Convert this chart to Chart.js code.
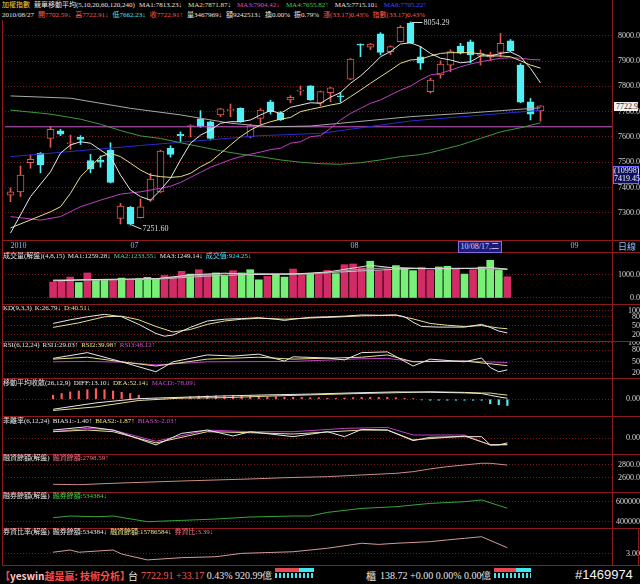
<!DOCTYPE html>
<html>
<head>
<meta charset="utf-8">
<title>加權指數 技術分析</title>
<script src="https://cdn.jsdelivr.net/npm/chart.js@4.4.1/dist/chart.umd.min.js"></script>
<style>
  html, body { margin: 0; padding: 0; background: #000; }
  #wrap { position: relative; width: 640px; height: 584px; overflow: hidden; background: #000;
          font-family: "Liberation Serif", "Noto Sans CJK TC", serif; }
  #wrap canvas { position: absolute; left: 0; z-index: 1; }
  .txt { position: absolute; white-space: nowrap; font-size: 7px; line-height: 9px; color: #e6e6e6; z-index: 3; }
  .txt span { margin-right: 3px; }
  .hdr span { margin-right: 4px; }
  .hl { position: absolute; left: 2px; width: 638px; height: 1px; background: #8e1b1b; z-index: 2; }
  .vl { position: absolute; width: 1px; background: #8e1b1b; z-index: 2; }
  .w { color: #e6e6e6; } .y { color: #ece48a; } .m { color: #d24fd2; } .g { color: #48d048; }
  .b { color: #4a4aff; } .r { color: #ff5a50; } .c { color: #45e4ff; } .t { color: #55d6a8; }
  .pink { color: #ff6f8a; }
  #status { position: absolute; left: 0; top: 566px; width: 640px; height: 18px; z-index: 3; }
  #status div { position: absolute; white-space: nowrap; }
  .mini { position: absolute; height: 10px; }
</style>
</head>
<body>
<div id="wrap">
  <!-- header -->
  <div class="txt hdr" style="left:2px;top:1px">
    <span style="color:#f2d24a">加權指數</span><span>競單移動平均(5,10,20,60,120,240)</span><span style="margin-right:6px">MA1:7813.23↓</span><span class="y" style="margin-right:6px">MA2:7871.87↓</span><span class="m" style="margin-right:6px">MA3:7904.42↓</span><span class="g" style="margin-right:6px">MA4:7655.82↑</span><span style="margin-right:6px">MA5:7715.10↓</span><span class="b">MA6:7705.22↑</span>
  </div>
  <div class="txt hdr" style="left:2px;top:11px">
    <span>2010/08/27</span><span class="r">開7702.59↓</span><span class="r">高7722.91↓</span><span class="c">低7662.23↓</span><span class="r">收7722.91↑</span><span>量3467969↓</span><span>額9242513↓</span><span>換0.00%</span><span>振0.79%</span><span class="r">漲(33.17)0.43%</span><span class="r">指數(33.17)0.43%</span>
  </div>

  <!-- panel labels -->
  <div class="txt" style="left:3px;top:252px"><span>成交量(解盤)(4,8,15)</span><span>MA1:1259.28↓</span><span class="t">MA2:1233.55↓</span><span>MA3:1249.14↓</span><span class="c">成交值:924.25↓</span></div>
  <div class="txt" style="left:3px;top:304px"><span>KD(9,3,3)</span><span>K:26.79↓</span><span class="y">D:40.51↓</span></div>
  <div class="txt" style="left:3px;top:341px"><span>RSI(6,12,24)</span><span>RSI1:29.03↑</span><span class="y">RSI2:39.98↑</span><span class="m">RSI3:48.12↑</span></div>
  <div class="txt" style="left:3px;top:379px"><span>移動平均收斂(26,12,9)</span><span>DIFF:13.10↓</span><span class="y">DEA:52.14↓</span><span class="m">MACD:-78.09↓</span></div>
  <div class="txt" style="left:3px;top:417px"><span>乖離率(6,12,24)</span><span>BIAS1:-1.40↑</span><span class="y">BIAS2:-1.87↑</span><span class="m">BIAS3:-2.03↑</span></div>
  <div class="txt" style="left:3px;top:454px"><span>融資餘額(解盤)</span><span class="pink">融資餘額:2798.59↑</span></div>
  <div class="txt" style="left:3px;top:492px"><span>融券餘額(解盤)</span><span class="g">融券餘額:534384↓</span></div>
  <div class="txt" style="left:3px;top:528px"><span>券資比率(解盤)</span><span>融券餘額:534384↓</span><span class="y">融資餘額:15786584↓</span><span class="pink">券資比:3.39↓</span></div>

  <!-- frame -->
  <div class="hl" style="top:240px"></div>
  <div class="hl" style="top:252px"></div>
  <div class="hl" style="top:304px"></div>
  <div class="hl" style="top:341px"></div>
  <div class="hl" style="top:378px"></div>
  <div class="hl" style="top:416px"></div>
  <div class="hl" style="top:454px"></div>
  <div class="hl" style="top:492px"></div>
  <div class="hl" style="top:528px"></div>
  <div class="hl" style="top:565px"></div>
  <div class="vl" style="left:2px;top:20px;height:546px"></div>
  <div class="vl" style="left:612px;top:0;height:566px"></div>
  <div class="vl" style="left:638px;top:528px;height:38px"></div>

  <div class="txt" style="left:618px;top:242px;font-size:9px;line-height:10px;color:#8fb8ff">日線</div>

  <!-- status bar -->
  <div id="status">
    <div style="left:0;top:2px;font:bold 10px 'Noto Sans CJK TC';color:#ff4a4a">【<span style="color:#ffc8c8">yeswin</span>越是贏: 技術分析】</div>
    <div style="left:128px;top:2px;font:10px 'Noto Sans CJK TC';color:#e6e6e6">台</div>
    <div style="left:141px;top:3px;font:10px 'Liberation Serif';color:#ff5a50">7722.91 +33.17 <span style="color:#e6e6e6">0.43% 920.99億</span></div>
    <div class="mini" style="left:275px;top:2px;width:24px;height:4px;background:#e8484f"></div>
    <div class="mini" style="left:299px;top:2px;width:15px;height:4px;background:#3ee8f0"></div>
    <div class="mini" style="left:275px;top:7px;width:39px;height:5px;background:repeating-linear-gradient(90deg,#3ee8f0 0 2px,#000 2px 4px)"></div>
    <div style="left:366px;top:2px;font:10px 'Noto Sans CJK TC';color:#e6e6e6">櫃</div>
    <div style="left:380px;top:3px;font:10px 'Liberation Serif';color:#e6e6e6">138.72 +0.00 0.00% 0.00億</div>
    <div class="mini" style="left:494px;top:2px;width:22px;height:4px;background:#e8484f"></div>
    <div class="mini" style="left:516px;top:2px;width:15px;height:4px;background:#3ee8f0"></div>
    <div class="mini" style="left:494px;top:7px;width:37px;height:5px;background:repeating-linear-gradient(90deg,#3ee8f0 0 2px,#000 2px 4px)"></div>
    <div style="left:575px;top:1px;font:13px 'Liberation Sans';color:#f2f2f2">#1469974</div>
  </div>
</div>

<script>
// ---- values ----
const monthIdx  = [0, 12, 34, 56];
const monthText = ['2010', '07', '08', '09'];
const cursorIdx = 45;
const cursorDate = '10/08/17,二';
const cursorCount = '(10998)';
const cursorValue = 7419.45;
const refLevel = 7640;

const open  = [7370,7383,7498,7535,7594,7624,7573,7598,7506,7508,7548,7278,7322,7281,7350,7383,7555,7610,7640,7671,7660,7687,7705,7713,7600,7673,7739,7693,7746,7781,7802,7733,7775,7762,7828,7965,7955,8007,7937,7976,8049,7917,7779,7845,7884,7959,7976,7922,7915,7934,7980,7884,7739,7702.59];
const high  = [7398,7485,7528,7538,7640,7630,7607,7605,7531,7525,7577,7337,7325,7355,7456,7548,7565,7620,7648,7704,7662,7713,7730,7715,7650,7712,7745,7700,7763,7801,7803,7781,7797,7776,7910,7968,7970,8012,7960,8040,8054.29,7957,7832,7901,7945,7970,7983,7944,7935,8009,7985,7890,7752,7722.91];
const low   = [7344,7364,7476,7458,7559,7605,7551,7570,7458,7480,7418,7256,7251.6,7280,7345,7380,7520,7580,7600,7638,7588,7680,7680,7658,7596,7650,7690,7665,7735,7765,7744,7722,7739,7737,7826,7917,7945,7924,7925,7975,7970,7867,7773,7832,7857,7928,7893,7884,7901,7917,7937,7735,7667,7662.23];
const close = [7383,7449,7511,7489,7630,7611,7577,7590,7473,7500,7420,7327,7255,7324,7433,7544,7531,7605,7645,7641,7594,7711,7708,7660,7645,7706,7700,7667,7756,7784,7746,7779,7794,7758,7908,7963,7967,7934,7957,8033,7972,7891,7825,7888,7937,7931,7924,7930,7925,7970,7941,7737,7690,7722.91];

const ma1 = [[0,7220],[2,7364],[4,7462],[5,7536],[6,7568],[7,7581],[8,7575],[9,7548],[10,7522],[11,7449],[12,7390],[13,7364],[14,7350],[15,7390],[16,7437],[17,7509],[18,7575],[19,7607],[20,7627],[21,7654],[22,7660],[23,7660],[24,7667],[25,7687],[26,7704],[27,7693],[28,7717],[29,7726],[30,7735],[31,7733],[32,7757],[33,7775],[34,7812],[35,7841],[36,7877],[37,7917],[38,7937],[39,7967],[40,7972],[41,7957],[42,7930],[43,7911],[44,7904],[45,7893],[46,7897],[47,7920],[48,7920],[49,7930],[50,7936],[51,7917],[52,7871],[53,7813.23]];
const ma2 = [[0,7240],[4,7304],[5,7324],[6,7377],[7,7443],[8,7482],[9,7522],[10,7535],[11,7522],[12,7496],[13,7469],[14,7449],[15,7443],[16,7440],[17,7443],[18,7456],[19,7482],[20,7502],[21,7535],[22,7568],[23,7601],[24,7627],[25,7647],[26,7660],[27,7670],[28,7677],[29,7700],[30,7709],[31,7717],[32,7726],[33,7733],[34,7759],[35,7785],[36,7812],[37,7838],[38,7864],[39,7891],[40,7904],[41,7907],[42,7920],[43,7930],[44,7933],[46,7933],[47,7928],[48,7920],[49,7920],[50,7917],[51,7901],[52,7884],[53,7871.87]];
const ma3 = [[0,7285],[3,7271],[5,7285],[7,7324],[9,7350],[11,7374],[13,7383],[15,7397],[16,7405],[17,7420],[18,7440],[19,7460],[20,7480],[21,7495],[22,7510],[23,7522],[24,7532],[25,7540],[26,7550],[27,7555],[28,7575],[29,7581],[30,7601],[31,7605],[32,7634],[33,7667],[34,7693],[35,7713],[36,7733],[37,7746],[38,7766],[39,7785],[40,7801],[41,7825],[42,7845],[43,7851],[44,7864],[45,7877],[46,7888],[47,7897],[48,7904],[49,7911],[50,7913],[51,7911],[52,7906],[53,7904.42]];
const ma4 = [[0,7706],[4,7690],[7,7670],[9,7650],[11,7625],[13,7604],[15,7594],[17,7577],[19,7561],[21,7545],[23,7532],[25,7522],[27,7509],[29,7500],[31,7494],[33,7492],[35,7498],[37,7509],[39,7522],[41,7530],[42,7538],[45,7568],[47,7594],[49,7620],[51,7636],[53,7655.82]];
const ma5 = [[0,7762],[6,7753],[12,7713],[17,7687],[22,7654],[26,7640],[30,7643],[33,7654],[40,7680],[46,7695],[53,7715.10]];
const ma6 = [[0,7522],[13,7566],[25,7605],[31,7614],[40,7663],[53,7705.22]];

const volume = [690,750,910,675,1090,790,790,790,865,790,835,895,820,980,910,1160,1040,1230,1040,1090,940,1190,1090,1230,790,940,1010,910,1260,1060,1040,1060,1200,1060,1450,1480,1310,1600,1190,1260,1410,1280,1190,1340,1200,1350,1380,1280,1040,1230,1350,1640,1200,924.25];
const volUp  = [1,1,1,0,1,0,0,1,0,1,0,0,0,1,1,1,0,1,1,0,0,1,0,0,0,1,0,0,1,1,0,1,1,0,1,1,1,0,1,1,0,0,0,1,1,0,0,1,0,1,0,0,0,1];
const volMa1 = [[0,740],[4,800],[8,820],[12,840],[16,1000],[20,1080],[24,1020],[28,1040],[32,1130],[35,1300],[37,1420],[40,1300],[44,1270],[48,1280],[51,1320],[53,1259.28]];
const volMa2 = [[0,760],[4,780],[8,800],[12,830],[16,950],[20,1050],[24,1070],[28,1020],[32,1100],[36,1250],[40,1330],[44,1280],[48,1290],[51,1280],[53,1233.55]];
const volMa3 = [[0,780],[6,790],[12,820],[18,950],[24,1040],[30,1060],[36,1180],[42,1280],[48,1290],[53,1249.14]];

const kLine = [[0,58],[2,70],[4,80],[6,88],[8,80],[10,55],[12,25],[13,16],[14,20],[16,45],[18,66],[20,72],[22,74],[24,77],[26,72],[27,68],[28,72],[30,78],[32,80],[34,82],[36,86],[38,85],[40,86],[41,80],[42,62],[43,48],[45,46],[48,46],[50,55],[51,45],[52,33],[53,26.79]];
const dLine = [[0,45],[3,60],[6,80],[8,82],[10,70],[12,48],[14,30],[16,38],[18,55],[20,66],[22,72],[24,75],[27,72],[30,76],[33,79],[36,83],[40,85],[42,73],[44,58],[46,52],[48,48],[50,51],[52,43],[53,40.51]];

const rsi1 = [[0,59],[4,74],[8,50],[12,24],[14,50],[18,68],[21,65],[24,70],[27,52],[28,63],[32,60],[34,55],[36,74],[39,76],[42,39],[44,57],[48,50],[50,60],[51,35],[52,24],[53,29.03]];
const rsi2 = [[0,57],[4,62],[8,50],[12,39],[18,57],[24,62],[28,57],[36,62],[39,68],[42,50],[48,52],[53,39.98]];
const rsi3 = [[0,50],[4,51],[8,49],[12,42],[18,50],[28,51],[36,58],[39,59],[42,51],[48,52],[53,48.12]];

const macdHist = [52,72,92,104,120,132,120,104,88,72,52,12,4,4,8,20,32,40,44,44,44,48,48,44,40,32,32,24,24,24,20,20,12,12,16,20,24,24,24,24,20,12,8,-8,-12,-12,-12,-12,-12,-12,-12,-56,-68,-78.09];
const diffLine = [[0,-125],[5,-45],[10,8],[15,25],[20,42],[25,55],[30,65],[35,80],[40,92],[44,88],[48,80],[50,72],[51,50],[52,30],[53,13.10]];
const deaLine  = [[0,-140],[5,-95],[10,-15],[15,15],[20,20],[25,39],[30,55],[35,70],[40,82],[44,94],[48,86],[50,78],[51,78],[52,64],[53,52.14]];

const bias1 = [[0,2.5],[4,3.5],[7,2.5],[12,-2.0],[15,1.5],[18,2.5],[21,0.7],[23,2.0],[28,0.5],[32,2.0],[34,0.5],[36,2.7],[39,2.5],[42,-0.7],[44,0.3],[48,0.5],[50,0.5],[51,-2.0],[52,-2.0],[53,-1.40]];
const bias2 = [[0,2.0],[4,2.5],[7,2.0],[12,-1.4],[18,2.0],[23,1.7],[28,1.3],[36,2.5],[39,2.5],[42,-0.5],[48,0.7],[51,-2.0],[53,-1.87]];
const bias3 = [[0,2.0],[4,3.0],[7,2.5],[12,-0.9],[18,2.5],[23,2.0],[28,2.0],[34,3.0],[39,3.3],[42,1.0],[48,1.0],[51,-2.0],[53,-2.03]];

const finBal   = [[0,2496],[3,2490],[7,2512],[15,2548],[23,2580],[27,2600],[32,2616],[36,2643],[40,2669],[42,2695],[44,2738],[46,2774],[50,2827],[51,2827],[53,2798.59]];
const shortBal = [[0,440000],[2,457000],[5,450000],[7,457000],[11,400000],[15,413000],[19,427000],[23,447000],[28,457000],[30,457000],[32,493000],[36,533000],[40,550000],[44,583000],[48,600000],[50,617000],[53,534384]];
const ratio    = [[0,3.11],[2,3.25],[3,3.11],[7,3.25],[8,3.0],[11,2.63],[15,2.77],[19,2.83],[22,3.04],[28,3.14],[32,3.36],[36,3.67],[38,3.6],[40,3.67],[44,3.77],[46,3.88],[48,3.98],[50,4.08],[53,3.39]];

// ---- drawing ----
const X_MIN = -0.55, X_MAX = 60.15;
const UP = '#e0584f', DOWN = '#4ef0f5';
const wrap = document.getElementById('wrap');
const pts = a => a.map(p => ({ x: p[0], y: p[1] }));
const line = (a, color) => ({ type: 'line', data: pts(a), borderColor: color, borderWidth: 1, pointRadius: 0, tension: 0, order: 0 });
const isUp = i => close[i] >= open[i];
const tickFont = { family: 'Liberation Serif', size: 8 };

function panel(top, height, datasets, y, xAxis, plugins) {
  const cv = document.createElement('canvas');
  cv.width = 640; cv.height = height; cv.style.top = top + 'px';
  wrap.appendChild(cv);
  return new Chart(cv.getContext('2d'), {
    type: 'bar',
    data: { datasets },
    plugins: plugins || [],
    options: {
      responsive: false, animation: false, events: [],
      layout: { padding: { left: 5, right: 0, top: 0, bottom: 0 }, autoPadding: false },
      plugins: { legend: { display: false }, tooltip: { enabled: false } },
      scales: {
        x: xAxis || { type: 'linear', min: X_MIN, max: X_MAX, display: false },
        y: {
          position: 'right', min: y.min, max: y.max,
          afterFit: s => { s.width = 28; s.paddingTop = 0; s.paddingBottom = 0; },
          afterBuildTicks: ax => { ax.ticks = y.ticks.map(v => ({ value: v })); },
          ticks: { autoSkip: false, color: '#d8d8d8', font: tickFont, padding: y.pad, crossAlign: 'far', callback: y.fmt },
          grid: { color: '#7a1818', drawTicks: false },
          border: { display: false, dash: [1, 2] }
        }
      }
    }
  });
}

const hiI = high.indexOf(Math.max(...high));
const loI = low.indexOf(Math.min(...low));

const leaders = {
  id: 'leaders',
  afterDatasetsDraw(chart) {
    const { ctx, scales: { x, y } } = chart;
    ctx.save();
    ctx.strokeStyle = '#d8d8d8'; ctx.lineWidth = 1;
    ctx.beginPath();
    const hx = x.getPixelForValue(hiI), hy = Math.round(y.getPixelForValue(high[hiI])) + 0.5;
    ctx.moveTo(hx + 1, hy); ctx.lineTo(hx + 12, hy);
    const lx = x.getPixelForValue(loI), ly = y.getPixelForValue(low[loI]);
    ctx.moveTo(lx + 1, ly); ctx.lineTo(lx + 11, ly + 4);
    ctx.stroke();
    ctx.restore();
  }
};

const main = panel(20, 232, [
  line(ma1, '#e8e8e8'), line(ma2, '#e6df8e'), line(ma3, '#c23fc6'),
  line(ma4, '#3f9a3a'), line(ma5, '#a9a9a9'), line(ma6, '#2b2bc8'),
  { type: 'line', data: [{ x: X_MIN, y: refLevel }, { x: X_MAX, y: refLevel }], borderColor: '#c95ac9', borderWidth: 1, pointRadius: 0, order: 0 },
  { type: 'bar', data: open.map((o, i) => ({ x: i, y: [o, close[i]] })),
    backgroundColor: c => isUp(c.dataIndex) ? '#000' : DOWN,
    borderColor: c => isUp(c.dataIndex) ? UP : DOWN,
    borderWidth: 1, borderSkipped: false, barThickness: 7, minBarLength: 1, grouped: false, order: 1 },
  { type: 'bar', data: low.map((l, i) => ({ x: i, y: [l, high[i]] })),
    backgroundColor: c => isUp(c.dataIndex) ? UP : DOWN,
    barThickness: 1, grouped: false, order: 2 }
], { min: 7192.5, max: 8062.1, ticks: [7300, 7400, 7500, 7600, 7700, 7800, 7900, 8000], fmt: v => v.toFixed(1), pad: 4 },
{
  type: 'linear', min: X_MIN, max: X_MAX, offset: false,
  afterBuildTicks: ax => { ax.ticks = monthIdx.map(v => ({ value: v })); },
  afterFit: s => { s.height = 12; s.paddingLeft = 0; s.paddingRight = 0; },
  ticks: { autoSkip: false, maxRotation: 0, align: 'start', padding: 1, color: '#8fb8ff', font: tickFont, callback: (v, i) => monthText[i] },
  grid: { display: false, drawTicks: false }, border: { display: false }
}, [leaders]);

panel(252, 52, [
  line(volMa1, '#dedede'), line(volMa2, '#9c9c9c'), line(volMa3, '#c4c4c4'),
  { type: 'bar', data: volume.map((v, i) => ({ x: i, y: v })),
    backgroundColor: c => volUp[c.dataIndex] ? '#d22b66' : '#78f078', barThickness: 7, grouped: false, order: 1 }
], { min: -261, max: 2000, ticks: [0, 1000], fmt: v => v.toFixed(1), pad: 4 });

panel(304, 37, [line(kLine, '#e8e8e8'), line(dLine, '#e6df8e')],
  { min: 0.25, max: 122, ticks: [20, 50, 80, 100], fmt: v => String(v), pad: 14 });

panel(341, 37, [line(rsi1, '#e8e8e8'), line(rsi2, '#e6df8e'), line(rsi3, '#c23fc6')],
  { min: 7.7, max: 104.4, ticks: [20, 50, 80, 100], fmt: v => String(v), pad: 14 });

panel(378, 38, [
  line(diffLine, '#e8e8e8'), line(deaLine, '#e6df8e'),
  { type: 'bar', data: macdHist.map((v, i) => ({ x: i, y: v })),
    backgroundColor: c => macdHist[c.dataIndex] >= 0 ? '#ff5a5a' : DOWN, barThickness: 1.5, grouped: false, order: 1 }
], { min: -209, max: 266, ticks: [0], fmt: v => v.toFixed(2), pad: 12 });

panel(416, 38, [line(bias1, '#e8e8e8'), line(bias2, '#e6df8e'), line(bias3, '#c23fc6')],
  { min: -4.76, max: 6.76, ticks: [0], fmt: v => v.toFixed(2), pad: 12 });

panel(454, 38, [line(finBal, '#cf8a8a')],
  { min: 2375, max: 2973, ticks: [2600, 2800], fmt: v => v.toFixed(1), pad: 4 });

panel(492, 36, [line(shortBal, '#3aa43a')],
  { min: 337000, max: 697000, ticks: [400000, 600000], fmt: v => String(v), pad: 3 });

panel(528, 37, [line(ratio, '#d49a9a')],
  { min: 2.3125, max: 4.625, ticks: [3], fmt: v => v.toFixed(2), pad: 12 });

// ---- labels tied to the main chart scales ----
function tag(html, css) {
  const d = document.createElement('div');
  d.className = 'txt';
  d.innerHTML = html;
  Object.assign(d.style, css);
  wrap.appendChild(d);
  return d;
}
const xs = main.scales.x, ys = main.scales.y;
tag(high[hiI].toFixed(2), { left: (xs.getPixelForValue(hiI) + 13) + 'px', top: (20 + ys.getPixelForValue(high[hiI]) - 4) + 'px', fontSize: '8px', color: '#dcdcdc' });
tag(low[loI].toFixed(2), { left: (xs.getPixelForValue(loI) + 12) + 'px', top: (20 + ys.getPixelForValue(low[loI]) - 1) + 'px', fontSize: '8px', color: '#dcdcdc' });

const last = close.length - 1;
tag(close[last].toFixed(1), {
  left: '614px', top: (20 + ys.getPixelForValue(close[last]) - 4) + 'px', width: '24px', height: '9px',
  fontSize: '8px', lineHeight: '9px', background: '#f0f0f0', color: '#222', textAlign: 'right', zIndex: 4
});
tag(cursorCount + '<br>' + cursorValue.toFixed(2), {
  left: '613px', top: (20 + ys.getPixelForValue(cursorValue) - 17) + 'px', width: '24px',
  fontSize: '8px', lineHeight: '8px', background: '#10105a', border: '1px solid #6a6aff', color: '#f0f0f0', textAlign: 'center', zIndex: 4
});
tag(cursorDate, {
  left: (xs.getPixelForValue(cursorIdx) - 3) + 'px', top: '241px', height: '10px',
  fontSize: '8px', lineHeight: '10px', background: '#1c1c78', border: '1px solid #8a6ae0', color: '#cfd8ff', padding: '0 2px', zIndex: 4
});
</script>
</body>
</html>
